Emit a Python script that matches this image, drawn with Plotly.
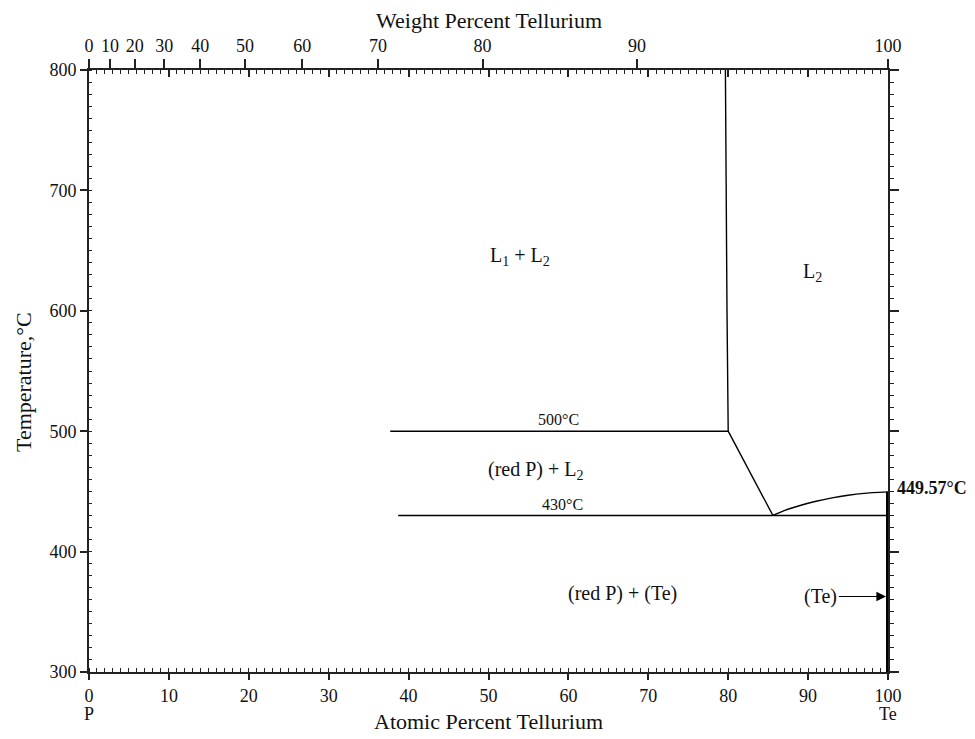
import plotly.graph_objects as go

# ---------------- data ----------------
# vertical boundary L1+L2 / L2 (at% Te, °C)
mono_x = [79.65, 79.75, 79.85, 80.0]
mono_t = [800, 700, 600, 500]
# monotectic horizontal line at 500 °C
mono_line_x = [37.7, 80.0]
mono_line_t = [500, 500]
# liquidus from monotectic to eutectic
liq1_x = [80.0, 85.6]
liq1_t = [500, 430]
# liquidus from eutectic to Te melting point
liq2_x = [85.6, 87.0, 89.0, 91.0, 93.0, 95.0, 97.0, 100.0]
liq2_t = [430, 434.0, 438.3, 441.8, 444.6, 446.8, 448.4, 449.57]
# eutectic line at 430 °C
eut_x = [38.7, 100.0]
eut_t = [430, 430]
# (Te) terminal solid solution
te_x = [100, 100]
te_t = [300, 449.57]

# axis tick values
at_ticks = [0, 10, 20, 30, 40, 50, 60, 70, 80, 90, 100]
t_ticks = [300, 400, 500, 600, 700, 800]
# top axis: weight percent tick labels
wt_labels = [0, 10, 20, 30, 40, 50, 60, 70, 80, 90, 100]
M_P, M_TE = 30.974, 127.6

def wt_to_at(w):
    if w >= 100:
        return 100.0
    a = w / M_TE
    b = (100 - w) / M_P
    return 100 * a / (a + b)

wt_pos = [wt_to_at(w) for w in wt_labels]

FONT = "Liberation Serif"
fig = go.Figure()

def line(x, y, w=1.4):
    fig.add_trace(go.Scatter(x=x, y=y, mode="lines",
                             line=dict(color="black", width=w, shape="spline",
                                       smoothing=0.6),
                             hoverinfo="skip", showlegend=False))

line(mono_x, mono_t)
line(mono_line_x, mono_line_t)
line(liq1_x, liq1_t)
line(liq2_x, liq2_t)
line(eut_x, eut_t)
line(te_x, te_t, 4)

# invisible traces for overlay axes
fig.add_trace(go.Scatter(x=[0, 100], y=[300, 800], xaxis="x2", yaxis="y",
                         mode="lines", line=dict(width=0), opacity=0,
                         hoverinfo="skip", showlegend=False))
fig.add_trace(go.Scatter(x=[0, 100], y=[300, 800], xaxis="x3", yaxis="y2",
                         mode="lines", line=dict(width=0), opacity=0,
                         hoverinfo="skip", showlegend=False))

tickfont = dict(family=FONT, size=18, color="#111")
common = dict(showgrid=False, zeroline=False, showline=True, linecolor="#222",
              linewidth=2, tickcolor="#222", tickwidth=1.5)
minor_style = dict(tickwidth=1.2, tickcolor="#222")

fig.update_layout(
    width=975, height=739,
    paper_bgcolor="white", plot_bgcolor="white",
    margin=dict(l=89, r=87, t=70, b=67, autoexpand=False),
    font=dict(family=FONT, color="#111"),
    xaxis=dict(range=[0, 100], tickvals=at_ticks,
               ticks="outside", ticklen=6, tickfont=tickfont,
               minor=dict(dtick=1, ticks="inside", ticklen=4, **minor_style),
               **common),
    xaxis2=dict(range=[0, 100], overlaying="x", side="top", anchor="y",
                tickvals=wt_pos, ticktext=[str(w) for w in wt_labels],
                ticks="outside", ticklen=9, tickfont=tickfont, **common),
    xaxis3=dict(range=[0, 100], overlaying="x", side="top", anchor="y2",
                tickvals=at_ticks,
                ticks="inside", ticklen=7, showticklabels=False,
                minor=dict(dtick=1, ticks="inside", ticklen=4, **minor_style),
                **common),
    yaxis=dict(range=[300, 800], tickvals=t_ticks, ticks="outside", ticklen=7,
               tickfont=tickfont,
               minor=dict(dtick=10, ticks="inside", ticklen=3, **minor_style),
               **common),
    yaxis2=dict(range=[300, 800], tickvals=t_ticks, overlaying="y", side="right",
                anchor="x", ticks="outside", ticklen=9, showticklabels=False,
                minor=dict(dtick=10, ticks="outside", ticklen=4, **minor_style),
                **common),
)

ann = []
def txt(x, y, s, size=20, **kw):
    d = dict(x=x, y=y, text=s, showarrow=False, xanchor="center", yanchor="middle",
             font=dict(family=FONT, size=size, color="#111"))
    d.update(kw)
    ann.append(d)

txt(54, 645, "L<sub>1</sub> + L<sub>2</sub>")
txt(90.5, 632, "L<sub>2</sub>")
txt(58.7, 509.5, "500°C", size=16)
txt(55.9, 467, "(red P) + L<sub>2</sub>")
txt(59.2, 439.5, "430°C", size=16)
txt(66.8, 365.5, "(red P) + (Te)")
txt(100, 449.57, "<b>449.57°C</b>", size=18, xanchor="left", xshift=7, yshift=4)
# (Te) arrow
ann.append(dict(x=100, y=362.7, ax=91.6, ay=362.7, axref="x", ayref="y",
                xref="x", yref="y", text="(Te)", showarrow=True,
                arrowhead=2, arrowsize=1.6, arrowwidth=1.2, arrowcolor="black",
                standoff=2,
                font=dict(family=FONT, size=20, color="#111")))
# axis titles and element labels
txt(0.5, -0.083, "Atomic Percent Tellurium", size=22, xref="paper", yref="paper")
txt(0.5, 1.083, "Weight Percent Tellurium", size=22, xref="paper", yref="paper")
txt(-0.0826, 0.4817, "Temperature,°C", size=22, xref="paper", yref="paper",
    textangle=-90)
txt(0, -0.0698, "P", size=18, yref="paper")
txt(100, -0.0698, "Te", size=18, yref="paper")

fig.update_layout(annotations=ann)
fig.write_html("out.html", config={"displayModeBar": False},
               post_script="document.body.style.margin='0px';"
                           "document.body.style.overflow='hidden';")
